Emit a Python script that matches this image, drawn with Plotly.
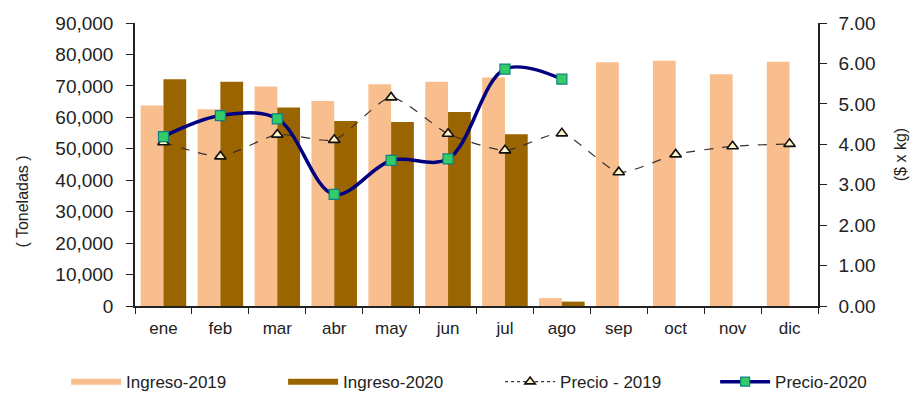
import plotly.graph_objects as go

# Monthly intake (tonnes) and price ($/kg)
meses = ["ene", "feb", "mar", "abr", "may", "jun", "jul", "ago", "sep", "oct", "nov", "dic"]
ingreso_2019 = [63800, 62600, 69800, 65200, 70500, 71300, 72700, 2500, 77500, 78000, 73700, 77700]
ingreso_2020 = [72100, 71300, 63100, 58800, 58500, 61700, 54600, 1400, None, None, None, None]
precio_2019 = [4.05, 3.70, 4.24, 4.11, 5.16, 4.26, 3.85, 4.27, 3.31, 3.75, 3.95, 4.01]
precio_2020 = [4.19, 4.71, 4.63, 2.76, 3.60, 3.64, 5.86, 5.61, None, None, None, None]

ton_ticks = list(range(0, 90001, 10000))
precio_ticks = [0, 1, 2, 3, 4, 5, 6, 7]

C_2019 = "#F9BE8E"
C_2020 = "#9A6500"
C_LINE19 = "#3A3030"
C_LINE20 = "#000080"
FONT = "Liberation Sans, Arial, sans-serif"
TXT = "#222222"

fig = go.Figure()

fig.add_trace(go.Bar(x=meses, y=ingreso_2019, name="Ingreso-2019",
                     marker=dict(color=C_2019, line=dict(width=0)),
                     showlegend=False, legendgroup="i19"))
fig.add_trace(go.Bar(x=meses, y=ingreso_2020, name="Ingreso-2020",
                     marker=dict(color=C_2020, line=dict(width=0)),
                     showlegend=False, legendgroup="i20"))

fig.add_trace(go.Scatter(x=meses, y=precio_2019, name="Precio - 2019", yaxis="y2",
                         mode="lines+markers",
                         line=dict(color=C_LINE19, width=1.2, dash="dash", shape="spline", smoothing=0.6),
                         marker=dict(symbol="triangle-up", size=10, color="#FFF6C8",
                                     line=dict(color="#111111", width=1.6)),
                         showlegend=False, legendgroup="p19"))
fig.add_trace(go.Scatter(x=meses, y=precio_2020, name="Precio-2020", yaxis="y2",
                         mode="lines+markers",
                         line=dict(color=C_LINE20, width=3.5, shape="spline", smoothing=1),
                         marker=dict(symbol="square", size=10, color="#33CC66",
                                     line=dict(color="#108080", width=1.2)),
                         showlegend=False, legendgroup="p20"))

# Legend entries with wide flat swatches
fig.add_trace(go.Scatter(x=[None], y=[None], name="Ingreso-2019", mode="lines",
                         line=dict(color=C_2019, width=6), legendgroup="i19"))
fig.add_trace(go.Scatter(x=[None], y=[None], name="Ingreso-2020", mode="lines",
                         line=dict(color=C_2020, width=6), legendgroup="i20"))
fig.add_trace(go.Scatter(x=[None], y=[None], name="Precio - 2019", mode="lines+markers",
                         line=dict(color=C_LINE19, width=1.2, dash="dot"),
                         marker=dict(symbol="triangle-up", size=9, color="#FFF6C8",
                                     line=dict(color="#111111", width=1.6)),
                         legendgroup="p19"))
fig.add_trace(go.Scatter(x=[None], y=[None], name="Precio-2020", mode="lines+markers",
                         line=dict(color=C_LINE20, width=3.5),
                         marker=dict(symbol="square", size=9, color="#33CC66",
                                     line=dict(color="#108080", width=1.2)),
                         legendgroup="p20", legend="legend2"))

legend_common = dict(
    orientation="h", xref="container", yref="container",
    y=0.04, xanchor="left", yanchor="middle",
    entrywidth=152, entrywidthmode="pixels", itemwidth=50,
    font=dict(size=17, color=TXT), bgcolor="rgba(0,0,0,0)",
    traceorder="normal",
)

fig.update_layout(
    width=918, height=398,
    margin=dict(l=135, r=100, t=23, b=92),
    paper_bgcolor="white", plot_bgcolor="white",
    barmode="group", bargap=0.2, bargroupgap=0.0,
    font=dict(family=FONT, color=TXT),
    xaxis=dict(
        type="category", range=[-0.5, 11.5],
        showline=True, linecolor="#222222", linewidth=1.5,
        ticks="outside", tickson="boundaries", ticklen=6, tickcolor="#222222", tickwidth=1.2,
        tickfont=dict(size=17, color=TXT), ticklabelstandoff=6,
        showgrid=False, zeroline=False,
    ),
    yaxis=dict(
        range=[0, 90000], tickvals=ton_ticks, tickformat=",",
        showline=True, linecolor="#222222", linewidth=1.5,
        ticks="outside", ticklen=7, tickcolor="#222222", tickwidth=1.2,
        tickfont=dict(size=19, color=TXT), ticklabelstandoff=9,
        showgrid=False, zeroline=False,
    ),
    yaxis2=dict(
        range=[0, 7], tickvals=precio_ticks, tickformat=".2f",
        overlaying="y", side="right", anchor="x",
        showline=True, linecolor="#222222", linewidth=1.5,
        ticks="outside", ticklen=7, tickcolor="#222222", tickwidth=1.2,
        tickfont=dict(size=19, color=TXT), ticklabelstandoff=8,
        showgrid=False, zeroline=False,
    ),
    yaxis3=dict(
        range=[0, 7], tickvals=precio_ticks, overlaying="y", side="right", anchor="x",
        showline=False, ticks="inside", ticklen=7, tickcolor="#222222", tickwidth=1.2,
        showticklabels=False, showgrid=False, zeroline=False,
    ),
    legend=dict(legend_common, x=0.072),
    legend2=dict(legend_common, x=0.779, entrywidth=0),
    annotations=[
        dict(text="( Toneladas )", xref="paper", yref="paper", x=-0.165, y=0.37,
             textangle=-90, showarrow=False, font=dict(size=16, color=TXT),
             xanchor="center", yanchor="middle"),
        dict(text="($ x kg)", xref="paper", yref="paper", x=1.121, y=0.535,
             textangle=-90, showarrow=False, font=dict(size=16, color=TXT),
             xanchor="center", yanchor="middle"),
    ],
)

fig.write_html("out.html")
